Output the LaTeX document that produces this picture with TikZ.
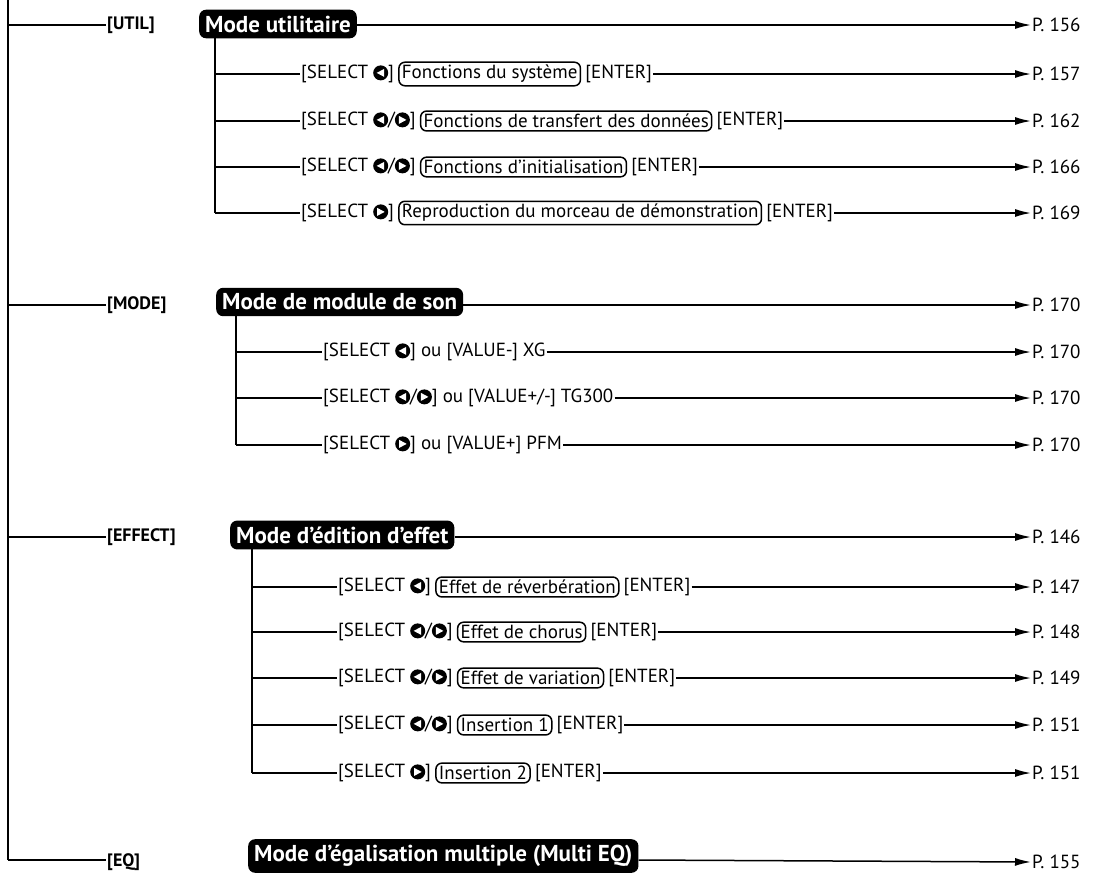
\documentclass[tikz,border=0pt]{standalone}
\usepackage{fontspec}
\setmainfont{PT Sans}
\usetikzlibrary{positioning,arrows.meta}
\newcommand{\selL}{\tikz[baseline=-0.6ex]{\fill (0,0) circle (7.5pt); \fill[white] (3.5pt,-4pt) -- (3.5pt,4pt) -- (-4pt,0) -- cycle;}}
\newcommand{\selR}{\tikz[baseline=-0.6ex]{\fill (0,0) circle (7.5pt); \fill[white] (-3.5pt,-4pt) -- (-3.5pt,4pt) -- (4pt,0) -- cycle;}}
\tikzset{
  txt/.style={inner sep=1pt, font=\fontsize{19}{21}\selectfont},
  key/.style={inner sep=1pt, font=\fontsize{18}{20}\selectfont\bfseries},
  item/.style={draw, rounded corners=6pt, line width=1.5pt, inner sep=3pt, font=\fontsize{19}{21}\selectfont},
  mode/.style={fill=black, text=white, rounded corners=7pt, inner sep=6pt, font=\fontsize{23}{25}\selectfont\bfseries},
  arr/.style={-{Latex[length=16pt,width=8pt]}, line width=1.5pt},
  line/.style={line width=1.5pt}
}
\begin{document}
\begin{tikzpicture}[x=1pt,y=-1pt]
  \useasboundingbox (0,0) rectangle (1101,876);
  % tronc principal
  \draw[line] (8,0) -- (8,860);

  % UTIL
  \node[key, anchor=west] (kutil) at (106,25) {[UTIL]};
  \draw[line] (8,25) -- (kutil.west);
  \node[mode, anchor=west] (mutil) at (199,24) {Mode utilitaire};
  \node[txt, anchor=west] (p156) at (1031,25) {P. 156};
  \draw[arr] (mutil.east |- 0,25) -- (p156.west);
  \draw[line] (215,35) -- (215,213);
  \node[txt, anchor=west] (u1) at (300,74) {[SELECT \selL]};
  \node[item, right=3pt of u1] (u1b) {Fonctions du système};
  \node[txt, right=3pt of u1b] (u1e) {[ENTER]};
  \node[txt, anchor=west] (p157) at (1031,74) {P. 157};
  \draw[line] (215,74) -- (u1.west); \draw[arr] (u1e) -- (p157);
  \node[txt, anchor=west] (u2) at (300,121) {[SELECT \selL/\selR]};
  \node[item, right=3pt of u2] (u2b) {Fonctions de transfert des données};
  \node[txt, right=3pt of u2b] (u2e) {[ENTER]};
  \node[txt, anchor=west] (p162) at (1031,121) {P. 162};
  \draw[line] (215,121) -- (u2.west); \draw[arr] (u2e) -- (p162);
  \node[txt, anchor=west] (u3) at (300,167) {[SELECT \selL/\selR]};
  \node[item, right=3pt of u3] (u3b) {Fonctions d'initialisation};
  \node[txt, right=3pt of u3b] (u3e) {[ENTER]};
  \node[txt, anchor=west] (p166) at (1031,167) {P. 166};
  \draw[line] (215,167) -- (u3.west); \draw[arr] (u3e) -- (p166);
  \node[txt, anchor=west] (u4) at (300,213) {[SELECT \selR]};
  \node[item, right=3pt of u4] (u4b) {Reproduction du morceau de démonstration};
  \node[txt, right=3pt of u4b] (u4e) {[ENTER]};
  \node[txt, anchor=west] (p169) at (1031,213) {P. 169};
  \draw[line] (215,213) -- (u4.west); \draw[arr] (u4e) -- (p169);

  % MODE
  \node[key, anchor=west] (kmode) at (106,305) {[MODE]};
  \draw[line] (8,305) -- (kmode.west);
  \node[mode, anchor=west] (mmode) at (216,302) {Mode de module de son};
  \node[txt, anchor=west] (p170) at (1031,305) {P. 170};
  \draw[arr] (mmode.east |- 0,305) -- (p170.west);
  \draw[line] (236,315) -- (236,445);
  \node[txt, anchor=west] (m1) at (322,352) {[SELECT \selL] ou [VALUE-] XG};
  \node[txt, anchor=west] (p170a) at (1031,352) {P. 170};
  \draw[line] (236,352) -- (m1.west); \draw[arr] (m1) -- (p170a);
  \node[txt, anchor=west] (m2) at (322,398) {[SELECT \selL/\selR] ou [VALUE+/-] TG300};
  \node[txt, anchor=west] (p170b) at (1031,398) {P. 170};
  \draw[line] (236,398) -- (m2.west); \draw[arr] (m2) -- (p170b);
  \node[txt, anchor=west] (m3) at (322,445) {[SELECT \selR] ou [VALUE+] PFM};
  \node[txt, anchor=west] (p170c) at (1031,445) {P. 170};
  \draw[line] (236,445) -- (m3.west); \draw[arr] (m3) -- (p170c);

  % EFFECT
  \node[key, anchor=west] (keff) at (106,537) {[EFFECT]};
  \draw[line] (8,537) -- (keff.west);
  \node[mode, anchor=west] (meff) at (230,535) {Mode d'édition d'effet};
  \node[txt, anchor=west] (p146) at (1031,537) {P. 146};
  \draw[arr] (meff.east |- 0,537) -- (p146.west);
  \draw[line] (252,548) -- (252,773);
  \node[txt, anchor=west] (e1) at (337,587) {[SELECT \selL]};
  \node[item, right=3pt of e1] (e1b) {Effet de réverbération};
  \node[txt, right=3pt of e1b] (e1e) {[ENTER]};
  \node[txt, anchor=west] (p147) at (1031,587) {P. 147};
  \draw[line] (252,587) -- (e1.west); \draw[arr] (e1e) -- (p147);
  \node[txt, anchor=west] (e2) at (337,632) {[SELECT \selL/\selR]};
  \node[item, right=3pt of e2] (e2b) {Effet de chorus};
  \node[txt, right=3pt of e2b] (e2e) {[ENTER]};
  \node[txt, anchor=west] (p148) at (1031,632) {P. 148};
  \draw[line] (252,632) -- (e2.west); \draw[arr] (e2e) -- (p148);
  \node[txt, anchor=west] (e3) at (337,678) {[SELECT \selL/\selR]};
  \node[item, right=3pt of e3] (e3b) {Effet de variation};
  \node[txt, right=3pt of e3b] (e3e) {[ENTER]};
  \node[txt, anchor=west] (p149) at (1031,678) {P. 149};
  \draw[line] (252,678) -- (e3.west); \draw[arr] (e3e) -- (p149);
  \node[txt, anchor=west] (e4) at (337,725) {[SELECT \selL/\selR]};
  \node[item, right=3pt of e4] (e4b) {Insertion 1};
  \node[txt, right=3pt of e4b] (e4e) {[ENTER]};
  \node[txt, anchor=west] (p151) at (1031,725) {P. 151};
  \draw[line] (252,725) -- (e4.west); \draw[arr] (e4e) -- (p151);
  \node[txt, anchor=west] (e5) at (337,773) {[SELECT \selR]};
  \node[item, right=3pt of e5] (e5b) {Insertion 2};
  \node[txt, right=3pt of e5b] (e5e) {[ENTER]};
  \node[txt, anchor=west] (p151b) at (1031,773) {P. 151};
  \draw[line] (252,773) -- (e5.west); \draw[arr] (e5e) -- (p151b);

  % EQ
  \node[key, anchor=west] (keq) at (106,862) {[EQ]};
  \draw[line] (8,860) -- (keq.west |- 0,860);
  \node[mode, anchor=west] (meq) at (248,856) {Mode d’égalisation multiple (Multi EQ)};
  \node[txt, anchor=west] (p155) at (1031,862) {P. 155};
  \draw[arr] (meq.east |- 0,860) -- (p155.west);
\end{tikzpicture}
\end{document}
